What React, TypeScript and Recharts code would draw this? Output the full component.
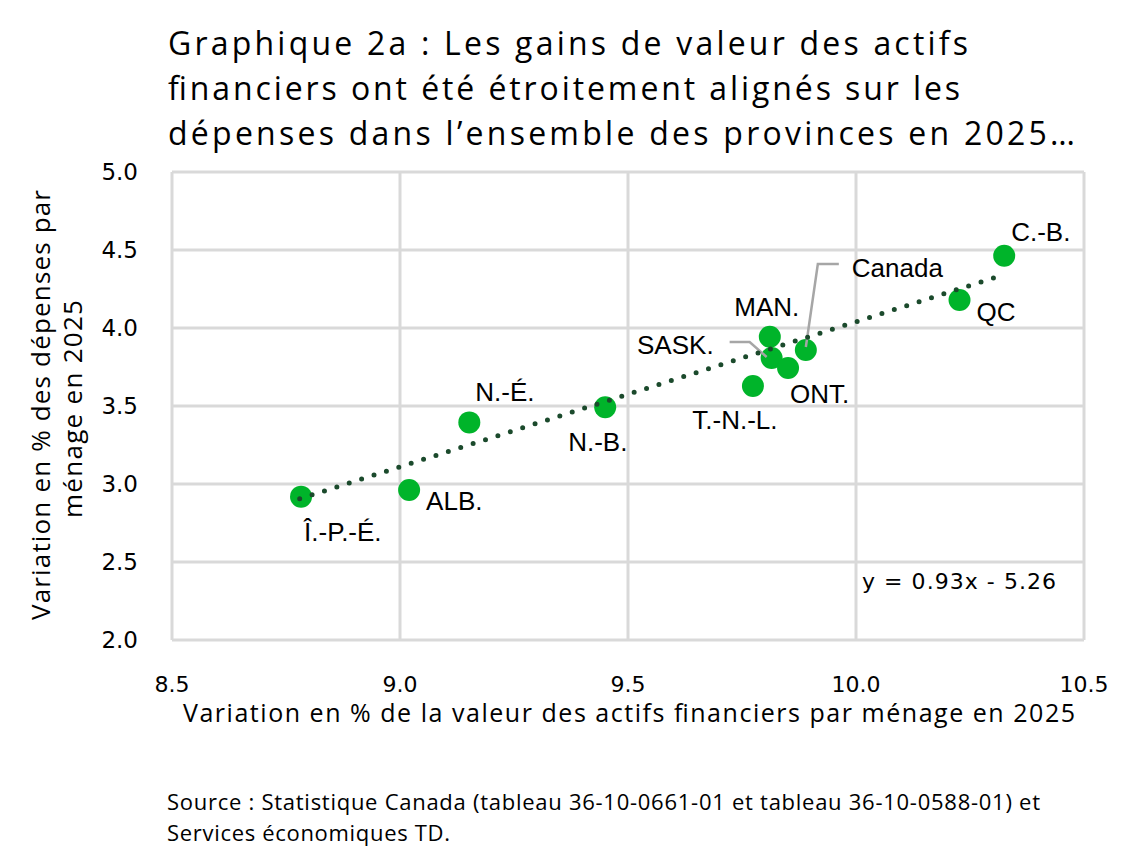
import React from "react";
import {
  CartesianGrid,
  Scatter,
  ScatterChart,
  XAxis,
  YAxis,
} from "recharts";

// Provinces: % change in financial asset value per household vs % change in spending, 2025
const PROVINCES = ["Î.-P.-É.", "ALB.", "N.-É.", "N.-B.", "T.-N.-L.", "MAN.", "SASK.", "ONT.", "Canada", "QC", "C.-B."];
const ASSET_GROWTH = [8.783, 9.02, 9.152, 9.45, 9.774, 9.811, 9.815, 9.851, 9.89, 10.227, 10.325];
const SPENDING_GROWTH = [2.919, 2.962, 3.395, 3.492, 3.628, 3.944, 3.808, 3.744, 3.859, 4.179, 4.463];

const X_TICKS = [8.5, 9.0, 9.5, 10.0, 10.5];
const Y_TICKS = [2.0, 2.5, 3.0, 3.5, 4.0, 4.5, 5.0];

// linear fit shown on the chart
const SLOPE = 0.93;
const INTERCEPT = -5.26;
const FIT_RANGE = [8.78, 10.31];

const TITLE_LINES = [
  "Graphique 2a : Les gains de valeur des actifs",
  "financiers ont été étroitement alignés sur les",
  "dépenses dans l’ensemble des provinces en 2025…",
];
const X_TITLE = "Variation en % de la valeur des actifs financiers par ménage en 2025";
const Y_TITLE = ["Variation en % des dépenses par", "ménage en 2025"];
const SOURCE_LINES = [
  "Source : Statistique Canada (tableau 36-10-0661-01 et tableau 36-10-0588-01) et",
  "Services économiques TD.",
];

const GREEN = "#00b42a";
const TREND = "#1b4a2c";
const GRID = "#d9d9d9";
const LABEL_FONT = "'Liberation Sans', Arial, sans-serif";
const TICK_FONT = "'DejaVu Sans', sans-serif";
const TEXT_FONT = "'Open Sans', 'Noto Sans', sans-serif";

type LabelPos = {
  dx: number;
  dy: number;
  anchor?: "start" | "middle" | "end";
  leader?: [number, number][];
};

const LABEL_POS: Record<string, LabelPos> = {
  "Î.-P.-É.": { dx: 3, dy: 35 },
  "ALB.": { dx: 17, dy: 11 },
  "N.-É.": { dx: 6, dy: -30 },
  "N.-B.": { dx: -37, dy: 35 },
  "T.-N.-L.": { dx: -18, dy: 34, anchor: "middle" },
  "MAN.": { dx: -3, dy: -30, anchor: "middle" },
  "SASK.": { dx: -58, dy: -13, anchor: "end", leader: [[-42, -16], [-22, -16], [-5, -1]] },
  "ONT.": { dx: 2, dy: 26 },
  Canada: { dx: 46, dy: -82, leader: [[0, -3], [12, -86], [33, -86]] },
  QC: { dx: 17, dy: 12 },
  "C.-B.": { dx: 7, dy: -24 },
};

const points = PROVINCES.map((name, i) => ({
  name,
  x: ASSET_GROWTH[i],
  y: SPENDING_GROWTH[i],
}));

const trend = FIT_RANGE.map((x) => ({ x, y: SLOPE * x + INTERCEPT }));

function ProvinceDot(props: any) {
  const { cx, cy, payload } = props;
  const pos = LABEL_POS[payload.name] ?? { dx: 10, dy: -10 };
  return (
    <g>
      <circle cx={cx} cy={cy} r={11} fill={GREEN} />
      {pos.leader && (
        <polyline
          points={pos.leader.map(([lx, ly]) => `${cx + lx},${cy + ly}`).join(" ")}
          fill="none"
          stroke="#a6a6a6"
          strokeWidth={2.5}
        />
      )}
      <text
        x={cx + pos.dx}
        y={cy + pos.dy}
        textAnchor={pos.anchor ?? "start"}
        dominantBaseline="central"
        fontFamily={LABEL_FONT}
        fontSize={26}
        fill="#000"
      >
        {payload.name}
      </text>
    </g>
  );
}

// text stretched to a fixed run length
function FitText(props: {
  x: number;
  y: number;
  len: number;
  size: number;
  font?: string;
  children: string;
}) {
  return (
    <text
      x={props.x}
      y={props.y}
      textLength={props.len}
      lengthAdjust="spacing"
      fontFamily={props.font ?? TEXT_FONT}
      fontSize={props.size}
      fill="#000"
    >
      {props.children}
    </text>
  );
}

export default function App() {
  return (
    <div
      style={{
        position: "absolute",
        left: 0,
        top: 0,
        width: 1138,
        height: 848,
        background: "#fff",
        overflow: "hidden",
      }}
    >
      <ScatterChart
        width={1138}
        height={848}
        margin={{ top: 172, right: 54, bottom: 148, left: 92 }}
        style={{ position: "absolute", left: 0, top: 0 }}
      >
        <CartesianGrid stroke={GRID} strokeWidth={3} />
        <XAxis
          type="number"
          dataKey="x"
          domain={[8.5, 10.5]}
          ticks={X_TICKS}
          tickFormatter={(v: number) => v.toFixed(1)}
          axisLine={false}
          tickLine={false}
          height={60}
          tickMargin={30}
          tick={{ fontFamily: TICK_FONT, fontSize: 22, fill: "#000" }}
          allowDataOverflow
        />
        <YAxis
          type="number"
          dataKey="y"
          domain={[2, 5]}
          ticks={Y_TICKS}
          tickFormatter={(v: number) => v.toFixed(1)}
          axisLine={false}
          tickLine={false}
          width={80}
          tickMargin={28}
          tick={{ fontFamily: TICK_FONT, fontSize: 23, fill: "#000" }}
          allowDataOverflow
        />
        <Scatter data={points} shape={ProvinceDot} isAnimationActive={false} />
        <Scatter
          data={trend}
          line={{
            stroke: TREND,
            strokeWidth: 5,
            strokeDasharray: "0 13",
            strokeLinecap: "round",
          }}
          shape={() => <g />}
          isAnimationActive={false}
        />
      </ScatterChart>

      <svg
        width={1138}
        height={848}
        style={{ position: "absolute", left: 0, top: 0, pointerEvents: "none" }}
      >
        <FitText x={168} y={55} len={800} size={32}>{TITLE_LINES[0]}</FitText>
        <FitText x={168} y={100} len={792} size={32}>{TITLE_LINES[1]}</FitText>
        <FitText x={168} y={145} len={907} size={32}>{TITLE_LINES[2]}</FitText>

        <FitText x={862} y={589} len={194} size={22} font={TICK_FONT}>
          y = 0.93x - 5.26
        </FitText>

        <g transform="translate(50, 620) rotate(-90)">
          <FitText x={0} y={0} len={430} size={26}>{Y_TITLE[0]}</FitText>
        </g>
        <g transform="translate(82, 518) rotate(-90)">
          <FitText x={0} y={0} len={218} size={26}>{Y_TITLE[1]}</FitText>
        </g>

        <FitText x={183} y={722} len={892} size={25}>{X_TITLE}</FitText>

        <FitText x={167} y={810} len={873} size={22}>{SOURCE_LINES[0]}</FitText>
        <FitText x={167} y={841} len={283} size={22}>{SOURCE_LINES[1]}</FitText>
      </svg>
    </div>
  );
}
